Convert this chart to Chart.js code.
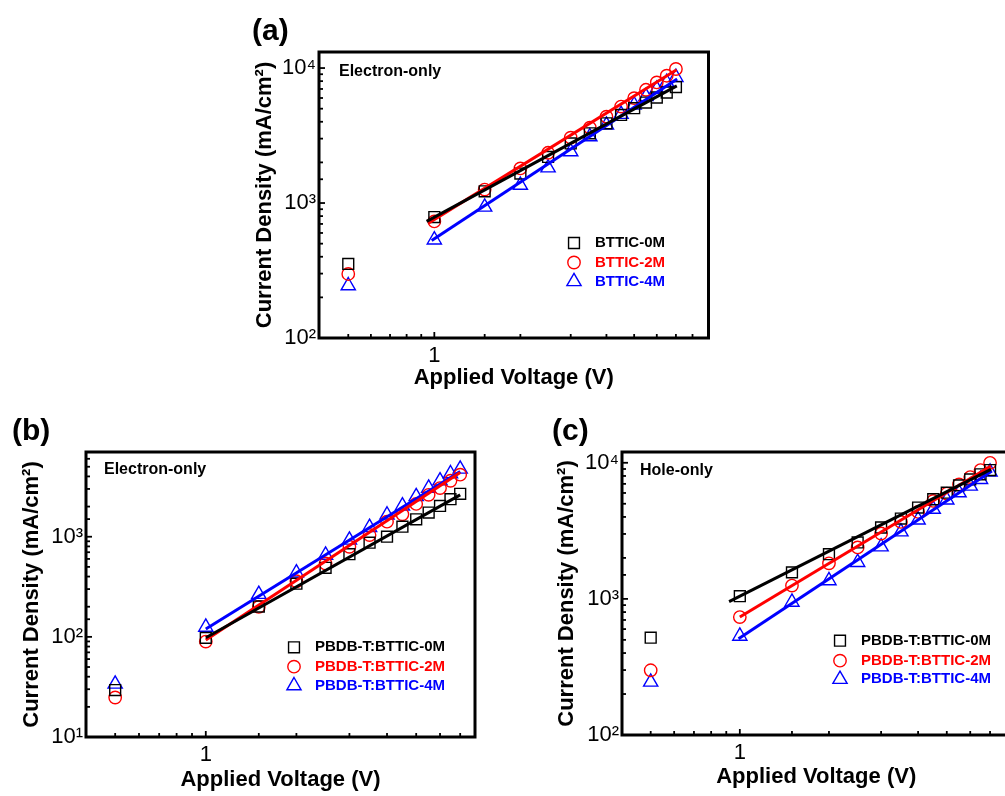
<!DOCTYPE html>
<html>
<head>
<meta charset="utf-8">
<script src="https://cdn.jsdelivr.net/npm/chart.js@4.4.1/dist/chart.umd.min.js"></script>
<style>
html,body{margin:0;padding:0;background:#fff;overflow:hidden;width:1005px;height:796px;}
canvas{position:absolute;}
</style>
</head>
<body>
<canvas id="ca" width="480" height="400" style="left:240px;top:0px"></canvas>
<canvas id="cb" width="490" height="396" style="left:0px;top:400px"></canvas>
<canvas id="cc" width="480" height="396" style="left:540px;top:400px"></canvas>
<script>
// ---------- data ----------
const voltage = [0.5, 1, 1.5, 2, 2.5, 3, 3.5, 4, 4.5, 5, 5.5, 6, 6.5, 7];
const namesA = ['BTTIC-0M', 'BTTIC-2M', 'BTTIC-4M'];
const namesBC = ['PBDB-T:BTTIC-0M', 'PBDB-T:BTTIC-2M', 'PBDB-T:BTTIC-4M'];
const panelLabels = ['(a)', '(b)', '(c)'];
const panelTags = ['Electron-only', 'Electron-only', 'Hole-only'];
const xTitle = 'Applied Voltage (V)';
const yTitle = 'Current Density (mA/cm\u00B2)';

// (a) neat acceptors, electron-only
const a0M = [354, 787, 1222, 1652, 2197, 2766, 3282, 3896, 4497, 5039, 5550, 6050, 6590, 7226];
const a2M = [298, 731, 1257, 1803, 2357, 3047, 3617, 4365, 5186, 5985, 6904, 7820, 8770, 9840];
const a4M = [244, 533, 934, 1355, 1825, 2400, 3100, 3785, 4545, 5335, 6150, 6980, 7820, 8530];
// (b) blends, electron-only
const b0M = [29.4, 97.7, 201, 340, 489, 669, 871, 1000, 1260, 1492, 1741, 2032, 2370, 2682];
const b2M = [24.8, 89.8, 199, 359, 540, 794, 1040, 1414, 1674, 2127, 2620, 3057, 3620, 4162];
const b4M = [33.8, 125, 266, 435, 655, 926, 1241, 1649, 2032, 2519, 3055, 3620, 4257, 4742];
// (c) blends, hole-only
const c0M = [519, 1046, 1566, 2132, 2598, 3345, 3892, 4686, 5395, 6031, 6823, 7550, 8220, 8840];
const c2M = [299, 735, 1252, 1825, 2389, 3022, 3679, 4355, 5245, 5935, 6939, 7850, 8840, 10000];
const c4M = [245, 533, 946, 1362, 1854, 2415, 3112, 3804, 4560, 5335, 6030, 6745, 7550, 8550];

// fitted lines: voltage ends and current-density ends
const fitA0M_V = [0.94, 7.05], fitA0M_J = [731, 7380];
const fitA2M_V = [0.953, 7.04], fitA2M_J = [710, 9730];
const fitA4M_V = [0.979, 7.07], fitA4M_J = [527, 8280];
const fitB0M_V = [1, 7], fitB0M_J = [98, 2620];
const fitB2M_V = [1, 7], fitB2M_J = [93, 4385];
const fitB4M_V = [1, 7], fitB4M_J = [120, 4490];
const fitC0M_V = [0.92, 7.05], fitC0M_J = [956, 8940];
const fitC2M_V = [1, 7.05], fitC2M_J = [735, 9460];
const fitC4M_V = [0.99, 7.1], fitC4M_J = [509, 8690];

// axis ranges
const xRangeA = [0.395, 9.1], yRangeA = [100, 13150];
const xRangeB = [0.40, 7.84], yRangeB = [10, 7015];
const xRangeC = [0.40, 8.2], yRangeC = [100, 12000];

// ---------- styling ----------
const COLORS = ['#000000', '#ff0000', '#0000ff'];
const SHAPES = ['rect', 'circle', 'triangle'];
const RADII = [7.7, 6.2, 8.2];
const FONT = '"Liberation Sans", Arial, Helvetica, sans-serif';
const SUP = {'0':'\u2070','1':'\u00B9','2':'\u00B2','3':'\u00B3','4':'\u2074','5':'\u2075','6':'\u2076','7':'\u2077','8':'\u2078','9':'\u2079'};

function isPow10(v) { const l = Math.log10(v); return Math.abs(l - Math.round(l)) < 1e-6; }

function pts(xs, ys) { return xs.map((x, i) => ({x: x, y: ys[i]})); }

function drawMarker(ctx, shape, x, y, r, color) {
  ctx.save();
  ctx.strokeStyle = color; ctx.lineWidth = 1.4;
  ctx.beginPath();
  if (shape === 'rect') { const s = r * Math.SQRT1_2; ctx.rect(x - s, y - s, 2 * s, 2 * s); }
  else if (shape === 'circle') { ctx.arc(x, y, r, 0, Math.PI * 2); }
  else { const w = r * Math.sin(Math.PI * 2 / 3); ctx.moveTo(x, y - r); ctx.lineTo(x + w, y + r / 2); ctx.lineTo(x - w, y + r / 2); ctx.closePath(); }
  ctx.stroke();
  ctx.restore();
}

// frame + inward ticks
const framePlugin = {
  id: 'frame',
  afterDatasetsDraw(chart) {
    const {ctx, chartArea: a} = chart;
    const xs = chart.scales.x, ys = chart.scales.y;
    ctx.save();
    ctx.strokeStyle = '#000';
    ctx.lineWidth = 1.8;
    xs.ticks.forEach(t => {
      const px = xs.getPixelForValue(t.value);
      if (px < a.left + 3 || px > a.right - 3) return;
      const len = isPow10(t.value) ? 6 : 4;
      ctx.beginPath(); ctx.moveTo(px, a.bottom); ctx.lineTo(px, a.bottom - len); ctx.stroke();
    });
    ys.ticks.forEach(t => {
      const py = ys.getPixelForValue(t.value);
      if (py < a.top + 3 || py > a.bottom - 3) return;
      const len = isPow10(t.value) ? 6 : 4;
      ctx.beginPath(); ctx.moveTo(a.left, py); ctx.lineTo(a.left + len, py); ctx.stroke();
    });
    ctx.lineWidth = 3;
    ctx.strokeRect(a.left, a.top, a.right - a.left, a.bottom - a.top);
    ctx.restore();
  }
};

function overlayPlugin(cfg) {
  return {
    id: 'overlay',
    afterDraw(chart) {
      const ctx = chart.ctx;
      ctx.save();
      ctx.textBaseline = 'middle';
      ctx.textAlign = 'left';
      ctx.fillStyle = '#000';
      ctx.font = 'bold 30px ' + FONT;
      ctx.fillText(cfg.label, cfg.labelPos[0], cfg.labelPos[1]);
      ctx.font = 'bold 16px ' + FONT;
      ctx.fillText(cfg.tag, cfg.tagPos[0], cfg.tagPos[1]);
      cfg.names.forEach((n, i) => {
        const yy = cfg.legRows[i];
        drawMarker(ctx, SHAPES[i], cfg.legMarkX, yy, RADII[i], COLORS[i]);
        ctx.fillStyle = COLORS[i];
        ctx.font = 'bold 15px ' + FONT;
        ctx.fillText(n, cfg.legTextX, yy);
      });
      ctx.restore();
    }
  };
}

function makeChart(id, c) {
  const sets = [];
  c.fits.forEach((f, i) => {
    sets.push({
      label: c.names[i] + ' fit', data: pts(f[0], f[1]), showLine: true,
      borderColor: COLORS[i], backgroundColor: COLORS[i], borderWidth: 3,
      pointRadius: 0, fill: false
    });
  });
  c.series.forEach((s, i) => {
    sets.push({
      label: c.names[i], data: pts(voltage, s), showLine: false,
      pointStyle: SHAPES[i], pointRadius: RADII[i], pointBorderWidth: 1.4,
      borderColor: COLORS[i], backgroundColor: 'rgba(0,0,0,0)'
    });
  });
  return new Chart(document.getElementById(id), {
    type: 'scatter',
    data: {datasets: sets},
    options: {
      responsive: false, animation: false,
      layout: {padding: {left: 0, top: c.padTop, right: c.padRight, bottom: 0}},
      plugins: {legend: {display: false}, tooltip: {enabled: false}},
      scales: {
        x: {
          type: 'logarithmic', min: c.xRange[0], max: c.xRange[1],
          afterFit: s => { s.height = c.xAxisH; },
          border: {display: false},
          grid: {display: false, drawTicks: false},
          ticks: {
            autoSkip: false, maxRotation: 0, padding: c.xTickPad, color: '#000',
            font: {family: FONT, size: 22},
            callback: v => isPow10(v) ? String(Math.round(v)) : ''
          },
          title: {display: true, text: xTitle, color: '#000',
            font: {family: FONT, size: 22, weight: 'bold'},
            padding: {top: 0, bottom: c.xTitlePad}}
        },
        y: {
          type: 'logarithmic', min: c.yRange[0], max: c.yRange[1],
          afterFit: s => { s.width = c.yAxisW; },
          border: {display: false},
          grid: {display: false, drawTicks: false},
          ticks: {
            autoSkip: false, padding: 3, color: '#000',
            font: {family: FONT, size: 22},
            callback: v => isPow10(v) ? '10' + String(Math.round(Math.log10(v))).split('').map(d => SUP[d]).join('') : ''
          },
          title: {display: true, text: yTitle, color: '#000',
            font: {family: FONT, size: 22, weight: 'bold'},
            padding: {top: c.yTitlePad, bottom: 0}}
        }
      }
    },
    plugins: [framePlugin, overlayPlugin(c.overlay)]
  });
}

makeChart('ca', {
  names: namesA, series: [a0M, a2M, a4M],
  fits: [[fitA0M_V, fitA0M_J], [fitA2M_V, fitA2M_J], [fitA4M_V, fitA4M_J]],
  xRange: xRangeA, yRange: yRangeA,
  padTop: 52, padRight: 11.5, xAxisH: 62, yAxisW: 79,
  xTickPad: 5, xTitlePad: 9, yTitlePad: 12,
  overlay: {label: panelLabels[0], labelPos: [12, 32], tag: panelTags[0], tagPos: [99, 72],
    names: namesA, legMarkX: 334, legTextX: 355, legRows: [243, 262.5, 281.5]}
});
makeChart('cb', {
  names: namesBC, series: [b0M, b2M, b4M],
  fits: [[fitB0M_V, fitB0M_J], [fitB2M_V, fitB2M_J], [fitB4M_V, fitB4M_J]],
  xRange: xRangeB, yRange: yRangeB,
  padTop: 52, padRight: 15, xAxisH: 59, yAxisW: 86,
  xTickPad: 5, xTitlePad: 3, yTitlePad: 19,
  overlay: {label: panelLabels[1], labelPos: [12, 32], tag: panelTags[1], tagPos: [104, 70],
    names: namesBC, legMarkX: 294, legTextX: 315, legRows: [247.3, 266.7, 285.7]}
});
makeChart('cc', {
  names: namesBC, series: [c0M, c2M, c4M],
  fits: [[fitC0M_V, fitC0M_J], [fitC2M_V, fitC2M_J], [fitC4M_V, fitC4M_J]],
  xRange: xRangeC, yRange: yRangeC,
  padTop: 52, padRight: 9, xAxisH: 61, yAxisW: 82,
  xTickPad: 5, xTitlePad: 6, yTitlePad: 13.5,
  overlay: {label: panelLabels[2], labelPos: [12, 32], tag: panelTags[2], tagPos: [100, 71],
    names: namesBC, legMarkX: 300, legTextX: 321, legRows: [240.7, 260.7, 279.3]}
});
</script>
</body>
</html>
